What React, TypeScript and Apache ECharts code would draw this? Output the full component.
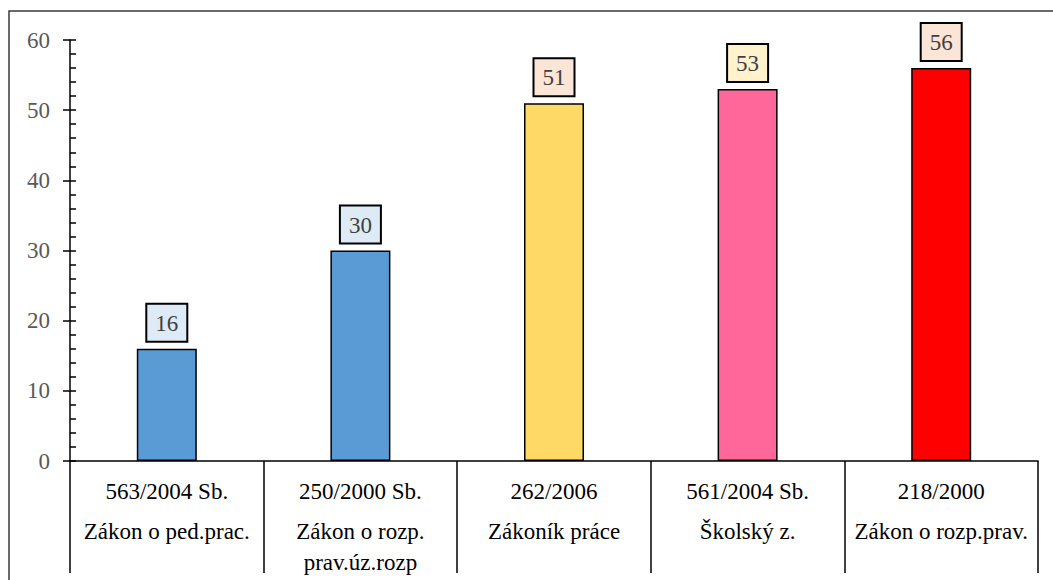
import React, { useEffect, useRef } from "react";
import * as echarts from "echarts";

const codes = ["563/2004 Sb.", "250/2000 Sb.", "262/2006", "561/2004 Sb.", "218/2000"];
const names = ["Zákon o ped.prac.", "Zákon o rozp.\nprav.úz.rozp", "Zákoník práce", "Školský z.", "Zákon o rozp.prav."];
const values = [16, 30, 51, 53, 56];
const barColors = ["#5B9BD5", "#5B9BD5", "#FFD966", "#FF6699", "#FF0000"];
const labelBg = ["#DEEBF7", "#DEEBF7", "#FBE5D6", "#FFF2CC", "#FBE5D6"];
const yTicks = [0, 10, 20, 30, 40, 50, 60];

const FONT = "Times New Roman, Liberation Serif, serif";

export default function App() {
  const ref = useRef<HTMLDivElement>(null);
  useEffect(() => {
    if (!ref.current) return;
    const chart = echarts.init(ref.current, undefined, { renderer: "svg" });
    const categories = codes.map((c, i) => c + "||" + names[i]);
    chart.setOption({
      animation: false,
      backgroundColor: "#fff",
      textStyle: { fontFamily: FONT },
      grid: { left: 70, right: 15, top: 40, bottom: 119 },
      graphic: [
        {
          type: "rect",
          shape: { x: 9, y: 11, width: 2000, height: 2000 },
          style: { fill: "none", stroke: "#3a3a3a", lineWidth: 1.5 },
          silent: true,
        },
      ],
      xAxis: {
        type: "category",
        data: categories,
        axisLine: { show: true, lineStyle: { color: "#000", width: 1.5 } },
        axisTick: { show: true, interval: 0, length: 112, alignWithLabel: false, lineStyle: { color: "#000", width: 1.5 } },
        axisLabel: {
          interval: 0,
          margin: 6,
          fontFamily: FONT,
          formatter: (v: string) => {
            const [a, b] = v.split("||");
            return "{a|" + a + "}\n" + b.split("\n").map((s) => "{b|" + s + "}").join("\n");
          },
          rich: {
            a: { fontFamily: FONT, fontSize: 23, color: "#000", lineHeight: 49 },
            b: { fontFamily: FONT, fontSize: 23, color: "#000", lineHeight: 31 },
          },
        },
      },
      yAxis: [
        {
          type: "value",
          min: yTicks[0],
          max: yTicks[yTicks.length - 1],
          interval: 10,
          position: "left",
          splitLine: { show: false },
          axisLine: { show: true, lineStyle: { color: "#000", width: 1.5 } },
          axisTick: { show: true, inside: false, length: 7, lineStyle: { color: "#000", width: 1.5 } },
          axisLabel: { margin: 20, fontFamily: FONT, fontSize: 23, color: "#595959" },
        },
        {
          type: "value",
          min: yTicks[0],
          max: yTicks[yTicks.length - 1],
          interval: 10,
          position: "right",
          offset: -968,
          splitLine: { show: false },
          axisLine: { show: false },
          axisTick: { show: true, inside: false, length: 6, lineStyle: { color: "#000", width: 1.5 } },
          minorTick: { show: true, splitNumber: 5, length: 6, lineStyle: { color: "#000", width: 1.5 } },
          axisLabel: { show: false },
        },
      ],
      series: [
        {
          type: "bar",
          yAxisIndex: 0,
          barWidth: 60,
          data: values.map((v, i) => ({
            value: v,
            itemStyle: { color: barColors[i], borderColor: "#000", borderWidth: 1.5 },
            label: { backgroundColor: labelBg[i] },
          })),
          label: {
            show: true,
            position: "top",
            distance: 8,
            fontFamily: FONT,
            fontSize: 23,
            color: "#404040",
            borderColor: "#000",
            borderWidth: 2,
            padding: [7, 8, 6, 8],
          },
        },
      ],
    });
    return () => chart.dispose();
  }, []);
  return <div ref={ref} style={{ position: "fixed", left: 0, top: 0, width: 1053, height: 580 }} />;
}
